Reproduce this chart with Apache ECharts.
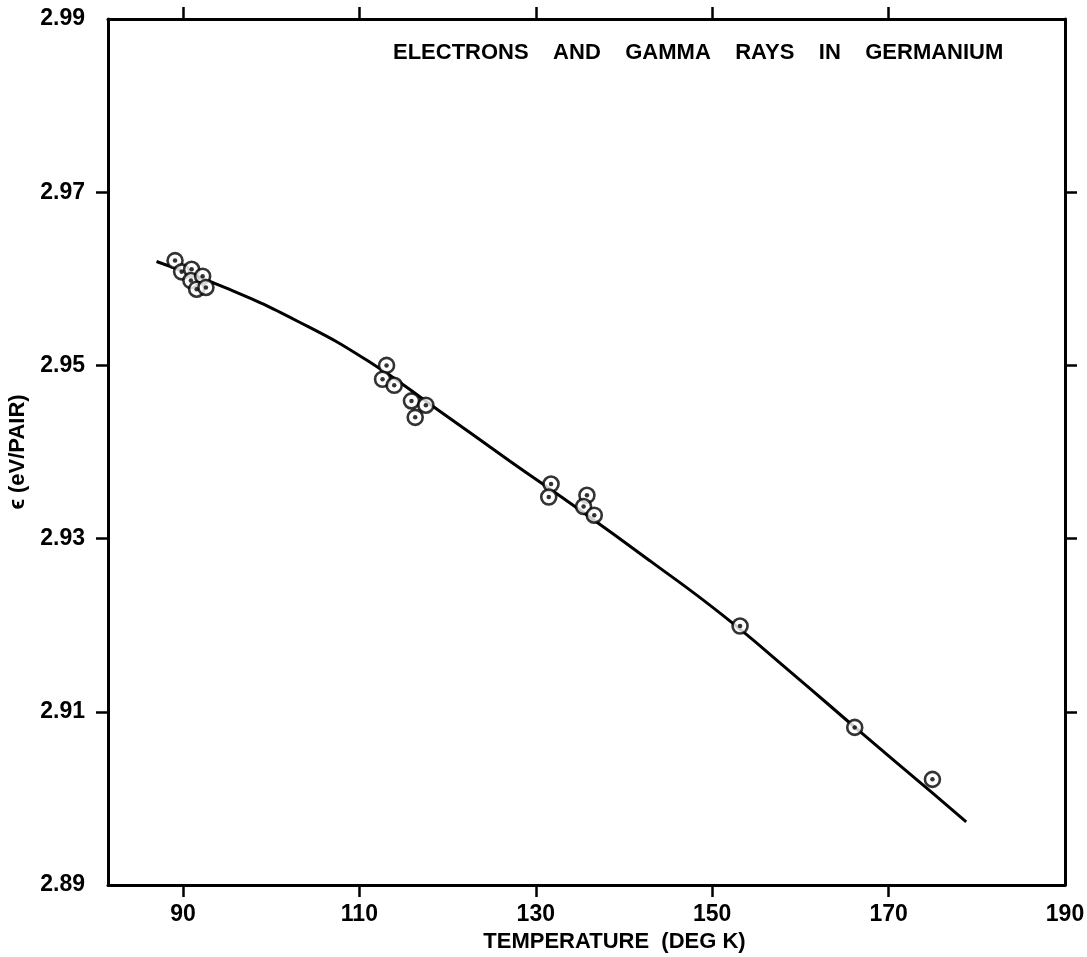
<!DOCTYPE html>
<html>
<head>
<meta charset="utf-8">
<script src="https://cdn.jsdelivr.net/npm/echarts@6/dist/echarts.min.js"></script>
<style>
html,body{margin:0;padding:0;background:#fff;}
#chart{width:1087px;height:957px;}
</style>
</head>
<body>
<div id="chart"></div>
<script>
// Measured data points (temperature in K, energy per pair in eV)
const tempK = [89.1, 89.85, 90.98, 90.9, 92.23, 91.55, 92.6,
               113.08, 112.63, 113.95, 115.91, 117.54, 116.33,
               131.73, 131.47, 135.8, 135.42, 136.63,
               153.16, 166.16, 174.97];
const epsilon = [2.9621, 2.9608, 2.9611, 2.9598, 2.9603, 2.9588, 2.9590,
                 2.9500, 2.9484, 2.9477, 2.9459, 2.9454, 2.9440,
                 2.9363, 2.9348, 2.9350, 2.9337, 2.9327,
                 2.9199, 2.9082, 2.9022];
// Drawn curve
const curveT = [87, 95, 103, 111, 119, 127, 135, 143, 151, 159, 167, 175, 178.8];
const curveE = [2.9620, 2.9589, 2.9551, 2.9505, 2.9448, 2.9390, 2.9333, 2.9274,
                2.9213, 2.9145, 2.9075, 2.9006, 2.8973];
// Axis ticks
const xLabels = [90, 110, 130, 150, 170, 190];
const xTickMarks = [90, 110, 130, 150, 170];
const yLabels = [2.89, 2.91, 2.93, 2.95, 2.97, 2.99];
const yTickMarks = [2.91, 2.93, 2.95, 2.97];
const titleText = 'ELECTRONS    AND    GAMMA    RAYS    IN    GERMANIUM';
const xName = 'TEMPERATURE  (DEG K)';
const yName = '\u03F5 (eV/PAIR)';

const FONT = "'Liberation Sans', Arial, 'DejaVu Sans', sans-serif";
const points = tempK.map((t, i) => [t, epsilon[i]]);
const curve = curveT.map((t, i) => [t, curveE[i]]);

const chart = echarts.init(document.getElementById('chart'), null, {renderer: 'canvas'});
const lineStyleAxis = {color: '#000', width: 3};
chart.setOption({
  backgroundColor: '#fff',
  animation: false,
  title: {
    text: titleText,
    left: 393, top: 42, padding: 0,
    textStyle: {fontFamily: FONT, fontWeight: 'bold', fontSize: 22, color: '#000'}
  },
  grid: {left: 108, right: 22, top: 19, bottom: 72, containLabel: false, outerBoundsMode: 'none'},
  xAxis: [{
    type: 'value', position: 'bottom', min: 81.5, max: 190,
    axisLine: {show: true, onZero: false, lineStyle: lineStyleAxis},
    axisTick: {show: true, inside: false, length: 12, customValues: xTickMarks, lineStyle: {color: '#000', width: 2.5}},
    axisLabel: {customValues: xLabels, margin: 18, color: '#000', fontFamily: FONT, fontWeight: 'bold', fontSize: 23},
    splitLine: {show: false},
    name: xName, nameLocation: 'middle', nameGap: 44,
    nameTextStyle: {fontFamily: FONT, fontWeight: 'bold', fontSize: 22, color: '#000', padding: [0, 0, 0, 56]}
  }, {
    type: 'value', position: 'top', min: 81.5, max: 190,
    axisLine: {show: true, onZero: false, lineStyle: lineStyleAxis},
    axisTick: {show: true, inside: false, length: 12, customValues: xTickMarks, lineStyle: {color: '#000', width: 2.5}},
    axisLabel: {show: false},
    splitLine: {show: false}
  }],
  yAxis: [{
    type: 'value', position: 'left', min: 2.89, max: 2.99,
    axisLine: {show: true, onZero: false, lineStyle: lineStyleAxis},
    axisTick: {show: true, inside: false, length: 12, customValues: yTickMarks, lineStyle: {color: '#000', width: 2.5}},
    axisLabel: {customValues: yLabels, margin: 23, color: '#000', fontFamily: FONT, fontWeight: 'bold', fontSize: 23,
      formatter: v => Number(v).toFixed(2)},
    splitLine: {show: false},
    name: yName, nameLocation: 'middle', nameGap: 77, nameRotate: 90,
    nameTextStyle: {fontFamily: FONT, fontWeight: 'bold', fontSize: 22, color: '#000'}
  }, {
    type: 'value', position: 'right', min: 2.89, max: 2.99,
    axisLine: {show: true, onZero: false, lineStyle: lineStyleAxis},
    axisTick: {show: true, inside: false, length: 12, customValues: yTickMarks, lineStyle: {color: '#000', width: 2.5}},
    axisLabel: {show: false},
    splitLine: {show: false}
  }],
  series: [{
    type: 'line', data: curve, xAxisIndex: 0, yAxisIndex: 0,
    smooth: 0.5, showSymbol: false, symbol: 'none',
    lineStyle: {color: '#000', width: 3}, z: 2
  }, {
    type: 'scatter', data: points, xAxisIndex: 0, yAxisIndex: 0,
    symbol: 'circle', symbolSize: 15,
    itemStyle: {color: '#fff', borderColor: '#000', borderWidth: 2.6}, z: 3
  }, {
    type: 'scatter', data: points, xAxisIndex: 0, yAxisIndex: 0,
    symbol: 'circle', symbolSize: 4.5,
    itemStyle: {color: '#000'}, z: 4
  }]
});
</script>
</body>
</html>
